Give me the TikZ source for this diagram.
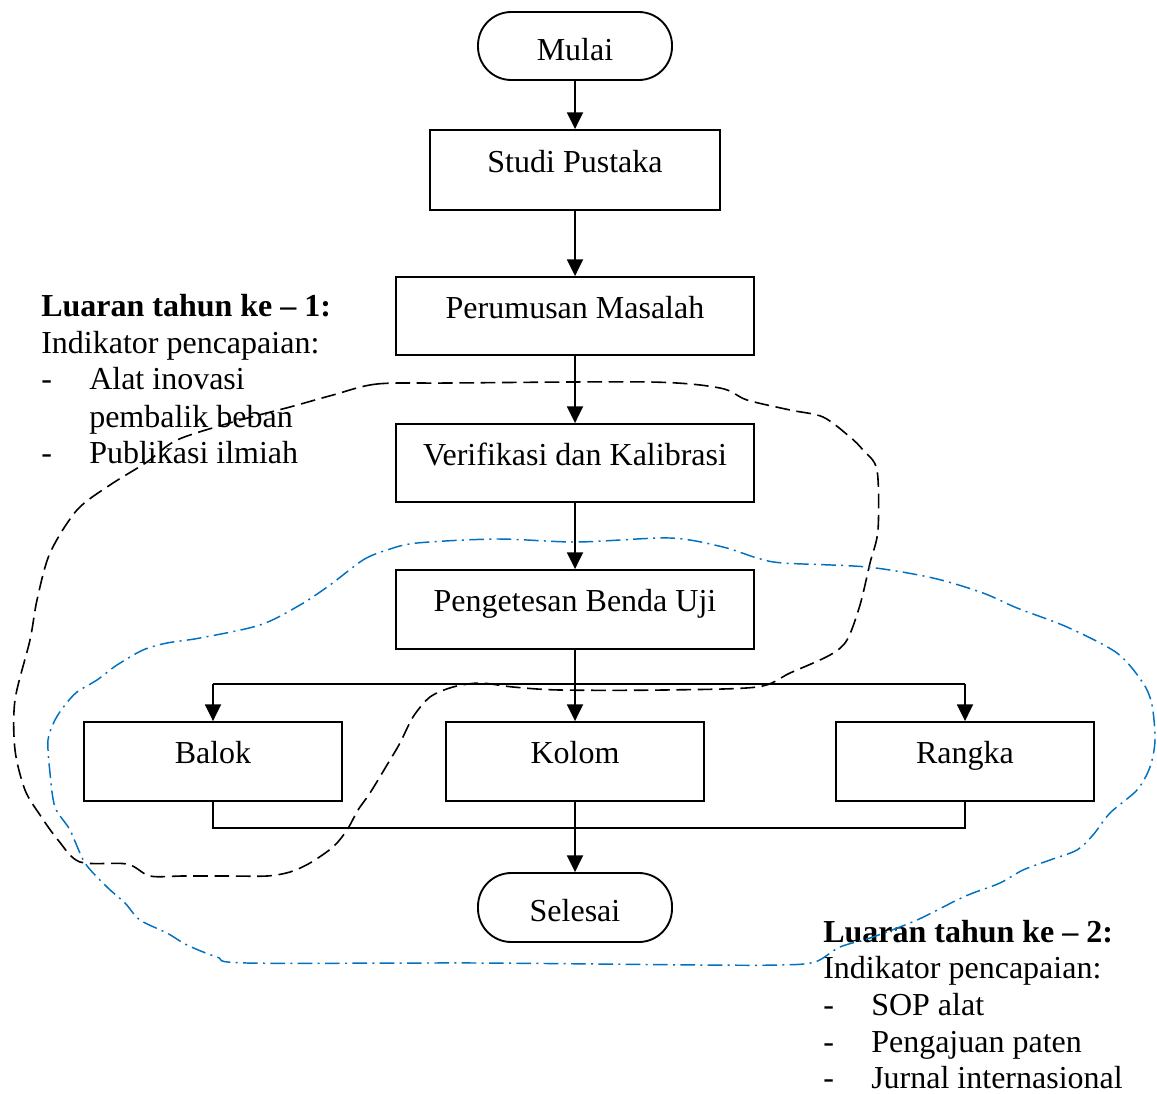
\documentclass[tikz,border=0pt]{standalone}
\usepackage{fontspec}
\setmainfont{Liberation Serif}
\usetikzlibrary{arrows.meta}
\definecolor{curveblue}{HTML}{0070C0}
\begin{document}
\begin{tikzpicture}[x=0.75pt,y=-0.75pt,
  every node/.style={font=\fontsize{24pt}{27.6pt}\selectfont},
  procbox/.style={draw,line width=1.4pt,rectangle,inner sep=0pt,text height=3pt,text depth=0pt,minimum width=268.5pt,minimum height=58.5pt},
  termbox/.style={draw,line width=1.4pt,rectangle,rounded corners=25pt,inner sep=0pt,text height=21pt,text depth=0pt,minimum width=145.5pt,minimum height=51pt},
  txt/.style={anchor=base west,inner sep=0pt},
  flow/.style={line width=1.4pt},
  arr/.style={flow,-{Triangle[length=12.5pt,width=12pt]}},
  blackloop/.style={line width=1.2pt,dash pattern=on 11pt off 5pt},
  blueloop/.style={line width=1.1pt,curveblue,dash pattern=on 11pt off 4pt on 1.5pt off 4pt}]
\useasboundingbox (0,0) rectangle (1157,1093);

% nodes
\node[termbox] (mulai) at (575,46) {Mulai};
\node[procbox,minimum width=217.5pt,minimum height=60pt] (studi) at (575,170) {Studi Pustaka};
\node[procbox] (rumus) at (575,316) {Perumusan Masalah};
\node[procbox] (verif) at (575,463) {Verifikasi dan Kalibrasi};
\node[procbox,minimum height=59.25pt] (uji) at (575,609.5) {Pengetesan Benda Uji};
\node[procbox,minimum width=193.5pt,minimum height=59.25pt] (balok) at (213,761.5) {Balok};
\node[procbox,minimum width=193.5pt,minimum height=59.25pt] (kolom) at (575,761.5) {Kolom};
\node[procbox,minimum width=193.5pt,minimum height=59.25pt] (rangka) at (965,761.5) {Rangka};
\node[termbox,minimum height=51.75pt] (selesai) at (575,907.5) {Selesai};

% connectors
\coordinate (splitL) at (213,684);
\coordinate (splitR) at (965,684);
\coordinate (joinL) at (213,828);
\coordinate (joinR) at (965,828);
\draw[arr] (mulai) -- (studi);
\draw[arr] (studi) -- (rumus);
\draw[arr] (rumus) -- (verif);
\draw[arr] (verif) -- (uji);
\draw[arr] (uji) -- (kolom);
\draw[flow] (splitL) -- (splitR);
\draw[arr] (splitL) -- (balok);
\draw[arr] (splitR) -- (rangka);
\draw[flow] (balok.south) -- (joinL) -- (joinR) -- (rangka.south);
\draw[arr] (kolom) -- (selesai);

% left text
\node[txt] (l1) at (41,316) {\bfseries Luaran tahun ke – 1:};
\node[txt] (l2) at (41,353) {Indikator pencapaian:};
\node[txt] (l3d) at (41,389) {-};
\node[txt] (l3) at (89,389) {Alat inovasi};
\node[txt] (l4) at (89,427) {pembalik beban};
\node[txt] (l5d) at (41,463) {-};
\node[txt] (l5) at (89,463) {Publikasi ilmiah};

% right text
\node[txt] (r1) at (823,942) {\bfseries Luaran tahun ke – 2:};
\node[txt] (r2) at (823,978) {Indikator pencapaian:};
\node[txt] (r3d) at (823,1015) {-};
\node[txt] (r3) at (871,1015) {SOP alat};
\node[txt] (r4d) at (823,1052) {-};
\node[txt] (r4) at (871,1052) {Pengajuan paten};
\node[txt] (r5d) at (823,1088) {-};
\node[txt] (r5) at (871,1088) {Jurnal internasional};

% black dashed loop (year 1)
\draw[blackloop] plot[smooth cycle,tension=0.5] coordinates {
(450,383) (377,384) (333,395) (290,407) (233,422) (177,440) (147,462) (110,485)
(77,510) (50,553) (37,600) (30,640) (15,700) (15,750) (25,790) (40,815) (58,840) (80,862)
(127,864) (150,876) (183,876) (230,876) (267,876) (290,872) (310,863) (333,847) (347,830)
(358,810) (370,793) (387,765) (400,743) (413,717) (430,697) (453,687) (480,683)
(513,687) (560,690) (663,690) (757,687) (790,673) (830,655) (847,640) (860,605)
(870,563) (878,530) (877,470) (863,450) (850,437) (823,417) (790,410) (747,400)
(720,388) (650,382)};

% blue dash-dot loop (year 2)
\draw[blueloop] plot[smooth cycle,tension=0.5] coordinates {
(330,585) (363,560) (387,550) (417,543) (497,539) (577,542) (670,538)
(723,547) (757,558) (783,563) (867,567) (933,578) (983,593) (1017,608) (1067,627)
(1117,653) (1143,683) (1152,705) (1155,740) (1150,767) (1137,790) (1110,813)
(1093,835) (1077,850) (1050,860) (1023,870) (1000,883) (973,893) (957,900) (917,920)
(873,937) (840,947) (815,962) (780,965) (700,965) (480,963) (247,963) (217,957)
(187,945) (167,933) (140,920) (125,903) (107,887) (85,863) (70,830) (55,807) (50,773)
(48,740) (55,720) (65,705) (77,692) (97,680) (117,665) (143,650) (167,643)
(200,638) (260,625) (300,605)};
\end{tikzpicture}
\end{document}
